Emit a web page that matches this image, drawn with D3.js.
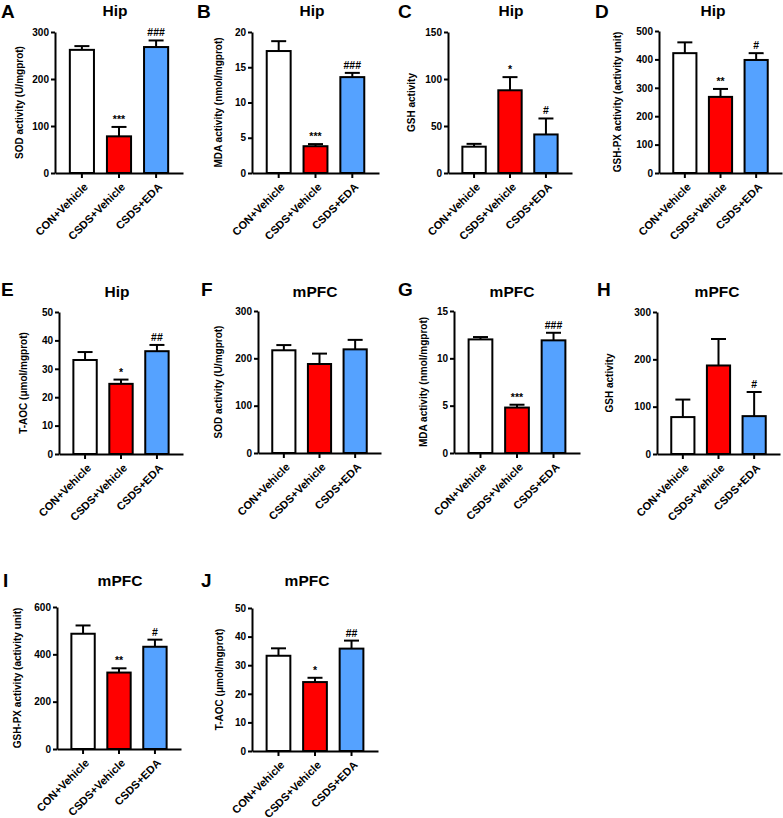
<!DOCTYPE html>
<html>
<head>
<meta charset="utf-8">
<script src="https://cdn.jsdelivr.net/npm/d3@7"></script>
<style>
  body { margin: 0; background: #fff; }
  svg { display: block; font-family: Arial, "Liberation Sans", sans-serif; }
</style>
</head>
<body>
<svg id="fig" width="783" height="818"></svg>
<script>
// Oxidative stress markers, Hip and mPFC

const groups = ["CON+Vehicle", "CSDS+Vehicle", "CSDS+EDA"];
const fills = ["#ffffff", "#ff0000", "#55a2ff"];

const letters = ["A", "B", "C", "D", "E", "F", "G", "H", "I", "J"];
const regions = ["Hip", "Hip", "Hip", "Hip", "Hip", "mPFC", "mPFC", "mPFC", "mPFC", "mPFC"];
const yLabels = [
  "SOD activity (U/mgprot)",
  "MDA activity (nmol/mgprot)",
  "GSH activity",
  "GSH-PX activity (activity unit)",
  "T-AOC (μmol/mgprot)",
  "SOD activity (U/mgprot)",
  "MDA activity (nmol/mgprot)",
  "GSH activity",
  "GSH-PX activity (activity unit)",
  "T-AOC (μmol/mgprot)"
];

const means = [
  [262, 78, 268],
  [17.3, 3.8, 13.6],
  [28, 88, 41],
  [422, 268, 398],
  [33.1, 24.7, 36.2],
  [217, 188, 219],
  [12.0, 4.8, 11.9],
  [78, 187, 80],
  [487, 323, 432],
  [33.3, 24.1, 35.8]
];
const errors = [
  [8, 20, 14],
  [1.4, 0.3, 0.6],
  [3, 14, 17],
  [38, 28, 24],
  [2.8, 1.5, 2.2],
  [11, 22, 20],
  [0.25, 0.3, 0.8],
  [37, 56, 51],
  [35, 18, 30],
  [2.6, 1.5, 2.8]
];
const marks = [
  ["", "***", "###"],
  ["", "***", "###"],
  ["", "*", "#"],
  ["", "**", "#"],
  ["", "*", "##"],
  ["", "", ""],
  ["", "***", "###"],
  ["", "", "#"],
  ["", "**", "#"],
  ["", "*", "##"]
];
const yMax = [300, 20, 150, 500, 50, 300, 15, 300, 600, 50];
const yTicks = [
  [0, 100, 200, 300],
  [0, 5, 10, 15, 20],
  [0, 50, 100, 150],
  [0, 100, 200, 300, 400, 500],
  [0, 10, 20, 30, 40, 50],
  [0, 100, 200, 300],
  [0, 5, 10, 15],
  [0, 100, 200, 300],
  [0, 200, 400, 600],
  [0, 10, 20, 30, 40, 50]
];

/* layout: axis x start, x end, plot top, plot bottom, letter x, title x, label x */
const layout = [
  { x0: 55, x1: 183, top: 32, bot: 173, lx: 1, tx: 115, ax: 23, row: 0 },
  { x0: 252, x1: 379, top: 32, bot: 173, lx: 197, tx: 312, ax: 222, row: 0 },
  { x0: 448, x1: 572, top: 32, bot: 173, lx: 398, tx: 511, ax: 415, row: 0 },
  { x0: 659, x1: 782, top: 31, bot: 173, lx: 595, tx: 713, ax: 621, row: 0 },
  { x0: 59, x1: 183, top: 312, bot: 454, lx: 1, tx: 117, ax: 27, row: 1 },
  { x0: 258, x1: 381, top: 311, bot: 453, lx: 201, tx: 315, ax: 222, row: 1 },
  { x0: 454, x1: 580, top: 311, bot: 453, lx: 398, tx: 512, ax: 427, row: 1 },
  { x0: 657, x1: 780, top: 312, bot: 454, lx: 597, tx: 717, ax: 613, row: 1 },
  { x0: 57, x1: 181, top: 607, bot: 749, lx: 3, tx: 120, ax: 21, row: 2 },
  { x0: 252, x1: 378, top: 608, bot: 751, lx: 201, tx: 307, ax: 223, row: 2 }
];
const letterY = [18, 296, 587];
const titleY = [16, 297, 586];

const svg = d3.select("#fig");

letters.forEach((letter, i) => {
  const L = layout[i];
  const g = svg.append("g");

  const x = d3.scaleBand()
    .domain(groups)
    .range([L.x0, L.x1])
    .paddingInner(0.35)
    .paddingOuter(0.4);
  const y = d3.scaleLinear()
    .domain([0, yMax[i]])
    .range([L.bot, L.top]);
  const cx = (d) => x(d) + x.bandwidth() / 2;

  /* letter + title */
  g.append("text")
    .attr("x", L.lx)
    .attr("y", letterY[L.row])
    .style("font-size", "19px")
    .style("font-weight", "bold")
    .text(letter);
  g.append("text")
    .attr("x", L.tx)
    .attr("y", titleY[L.row])
    .attr("text-anchor", "middle")
    .style("font-size", "15.5px")
    .style("font-weight", "bold")
    .text(regions[i]);

  const data = groups.map((d, j) => ({ grp: d, m: means[i][j], e: errors[i][j], s: marks[i][j], c: fills[j] }));

  /* error bars (upper only) */
  const eb = g.selectAll(".eb").data(data).enter().append("g");
  eb.append("line")
    .attr("x1", (d) => cx(d.grp))
    .attr("x2", (d) => cx(d.grp))
    .attr("y1", (d) => y(d.m))
    .attr("y2", (d) => y(d.m + d.e))
    .attr("stroke", "#000")
    .attr("stroke-width", 2);
  eb.append("line")
    .attr("x1", (d) => cx(d.grp) - 7.5)
    .attr("x2", (d) => cx(d.grp) + 7.5)
    .attr("y1", (d) => y(d.m + d.e))
    .attr("y2", (d) => y(d.m + d.e))
    .attr("stroke", "#000")
    .attr("stroke-width", 2);

  /* bars */
  g.selectAll(".bar")
    .data(data)
    .enter()
    .append("rect")
    .attr("x", (d) => x(d.grp))
    .attr("y", (d) => y(d.m))
    .attr("width", x.bandwidth())
    .attr("height", (d) => y(0) - y(d.m))
    .attr("fill", (d) => d.c)
    .attr("stroke", "#000")
    .attr("stroke-width", 2);

  /* significance marks */
  g.selectAll(".sig")
    .data(data)
    .enter()
    .append("text")
    .attr("x", (d) => cx(d.grp))
    .attr("y", (d) => y(d.m + d.e) - 4)
    .attr("text-anchor", "middle")
    .style("font-size", "10.5px")
    .style("font-weight", "bold")
    .text((d) => d.s);

  /* y axis */
  const ya = g.append("g")
    .attr("transform", `translate(${L.x0},0)`)
    .call(d3.axisLeft(y).tickValues(yTicks[i]).tickSize(4).tickSizeOuter(0));
  ya.select(".domain").attr("stroke-width", 2);
  ya.selectAll(".tick line").attr("stroke-width", 2);
  ya.selectAll(".tick text")
    .attr("x", -6)
    .style("font-size", "10px")
    .style("font-weight", "bold")
    .style("font-family", "Arial, 'Liberation Sans', sans-serif");

  /* x axis, labels drawn separately */
  const xa = g.append("g")
    .attr("transform", `translate(0,${L.bot})`)
    .call(d3.axisBottom(x).tickSize(5).tickSizeOuter(0).tickFormat(""));
  xa.select(".domain").attr("stroke-width", 2);
  xa.selectAll(".tick line").attr("stroke-width", 2);

  g.selectAll(".cat")
    .data(groups)
    .enter()
    .append("text")
    .attr("transform", (d) => `translate(${cx(d) + 4},${L.bot + 12}) rotate(-45)`)
    .attr("text-anchor", "end")
    .attr("dy", "0.35em")
    .style("font-size", "11px")
    .style("font-weight", "bold")
    .text((d) => d);

  /* y axis title */
  g.append("text")
    .attr("transform", `translate(${L.ax},${(L.top + L.bot) / 2}) rotate(-90)`)
    .attr("text-anchor", "middle")
    .style("font-size", "10px")
    .style("font-weight", "bold")
    .text(yLabels[i]);
});
</script>
</body>
</html>
